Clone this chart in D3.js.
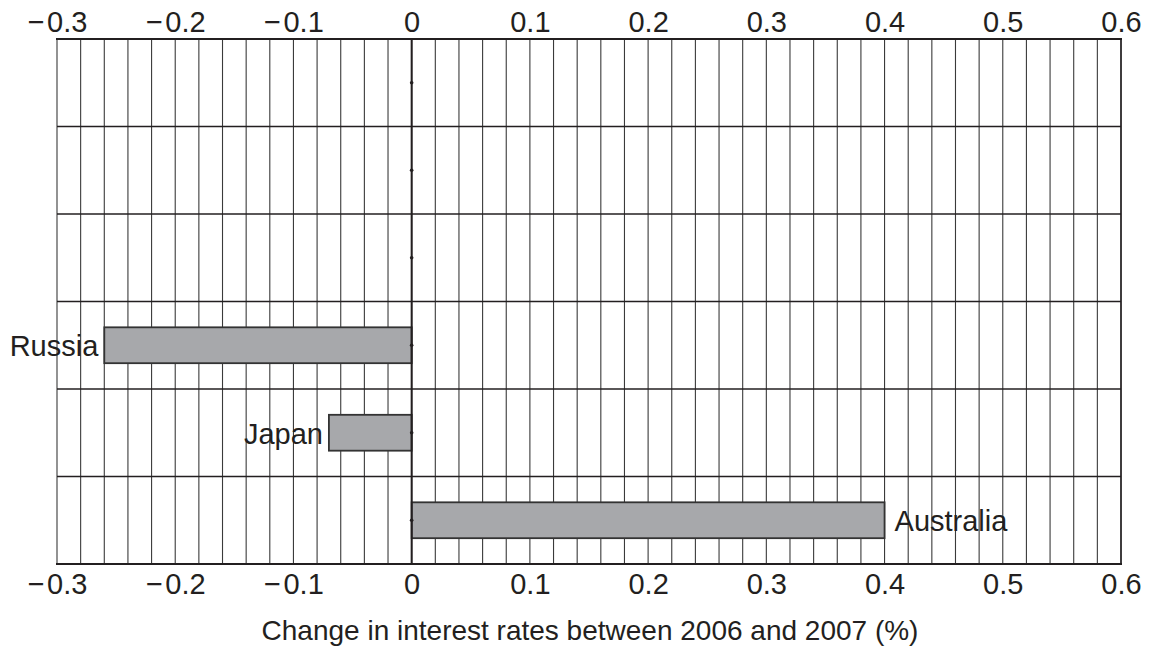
<!DOCTYPE html>
<html>
<head>
<meta charset="utf-8">
<script src="https://cdn.jsdelivr.net/npm/d3@7"></script>
<style>
  body { margin: 0; background: #fff; }
  text { font-family: "Liberation Sans", Arial, sans-serif; fill: #231f20; }
</style>
</head>
<body>
<div class="chart"></div>
<script>
// rows from top to bottom; the first three have no name and no change
const categories = ['', '', '', 'Russia', 'Japan', 'Australia']
const values = [0, 0, 0, -0.26, -0.07, 0.4]
const tickValues = [-0.3, -0.2, -0.1, 0, 0.1, 0.2, 0.3, 0.4, 0.5, 0.6]
const axisTitle = 'Change in interest rates between 2006 and 2007 (%)'

const width = 1150
const height = 651
const plotLeft = 57, plotRight = 1121, plotTop = 39, plotBottom = 564

const svg = d3.select('.chart')
  .append('svg')
  .attr('width', width)
  .attr('height', height)

const x = d3.scaleLinear().domain([-0.3, 0.6]).range([plotLeft, plotRight])
const y = d3.scaleBand().domain(d3.range(categories.length)).range([plotTop, plotBottom]).padding(0)

const fmt = (d) => d === 0 ? '0' : (d < 0 ? '\u2212\u200a' + d3.format('.1f')(-d) : d3.format('.1f')(d))

// vertical grid every 0.02
const grid = d3.range(-0.3, 0.6001, 0.02).map((d) => Math.round(d * 100) / 100)
svg.append('g')
  .selectAll('line')
  .data(grid)
  .join('line')
  .attr('x1', (d) => x(d))
  .attr('x2', (d) => x(d))
  .attr('y1', plotTop)
  .attr('y2', plotBottom)
  .attr('stroke', '#3a3a3a')
  .attr('stroke-width', 1.1)

// horizontal row lines
svg.append('g')
  .selectAll('line')
  .data(d3.range(1, categories.length))
  .join('line')
  .attr('x1', plotLeft)
  .attr('x2', plotRight)
  .attr('y1', (d) => y(d))
  .attr('y2', (d) => y(d))
  .attr('stroke', '#231f20')
  .attr('stroke-width', 1.3)

// frame
svg.append('line').attr('x1', plotLeft - 1).attr('x2', plotRight + 1).attr('y1', plotTop).attr('y2', plotTop)
  .attr('stroke', '#231f20').attr('stroke-width', 2.2)
svg.append('line').attr('x1', plotLeft - 1).attr('x2', plotRight + 1).attr('y1', plotBottom).attr('y2', plotBottom)
  .attr('stroke', '#231f20').attr('stroke-width', 2.2)
svg.append('line').attr('x1', plotRight).attr('x2', plotRight).attr('y1', plotTop).attr('y2', plotBottom)
  .attr('stroke', '#231f20').attr('stroke-width', 1.5)

// bars
const barH = y.bandwidth() * 0.41
svg.append('g')
  .selectAll('rect')
  .data(values.map((v, i) => ({ v, i })).filter((d) => d.v !== 0))
  .join('rect')
  .attr('x', (d) => x(Math.min(0, d.v)))
  .attr('width', (d) => Math.abs(x(d.v) - x(0)))
  .attr('y', (d) => y(d.i) + y.bandwidth() / 2 - barH / 2)
  .attr('height', barH)
  .attr('fill', '#a7a8ab')
  .attr('stroke', '#333')
  .attr('stroke-width', 1.8)

// zero line
svg.append('line').attr('x1', x(0)).attr('x2', x(0)).attr('y1', plotTop).attr('y2', plotBottom)
  .attr('stroke', '#231f20').attr('stroke-width', 2)

// dots at zero
svg.append('g')
  .selectAll('circle')
  .data(values.map((v, i) => i))
  .join('circle')
  .attr('cx', x(0))
  .attr('cy', (i) => y(i) + y.bandwidth() / 2)
  .attr('r', 1.8)
  .attr('fill', '#231f20')

// category labels
svg.append('g')
  .selectAll('text')
  .data(values.map((v, i) => ({ v, i, name: categories[i] })).filter((d) => d.name))
  .join('text')
  .attr('x', (d) => d.v < 0 ? x(d.v) - 6 : x(d.v) + 10)
  .attr('y', (d) => y(d.i) + y.bandwidth() / 2 + 11)
  .attr('text-anchor', (d) => d.v < 0 ? 'end' : 'start')
  .style('font-size', '29px')
  .text((d) => d.name)

// tick labels top and bottom
const topAxis = d3.axisTop(x).tickValues(tickValues).tickFormat(fmt).tickSize(0).tickPadding(7)
const bottomAxis = d3.axisBottom(x).tickValues(tickValues).tickFormat(fmt).tickSize(0).tickPadding(9)

const gTop = svg.append('g').attr('transform', `translate(0, ${plotTop})`).call(topAxis)
const gBottom = svg.append('g').attr('transform', `translate(0, ${plotBottom})`).call(bottomAxis)
;[gTop, gBottom].forEach((g) => {
  g.select('.domain').remove()
  g.selectAll('text')
    .style('font-size', '29px')
    .style('font-family', '"Liberation Sans", Arial, sans-serif')
    .attr('fill', '#231f20')
})

svg.append('text')
  .attr('x', (plotLeft + plotRight) / 2 + 1)
  .attr('y', 640)
  .attr('text-anchor', 'middle')
  .style('font-size', '28px')
  .text(axisTitle)
</script>
</body>
</html>
